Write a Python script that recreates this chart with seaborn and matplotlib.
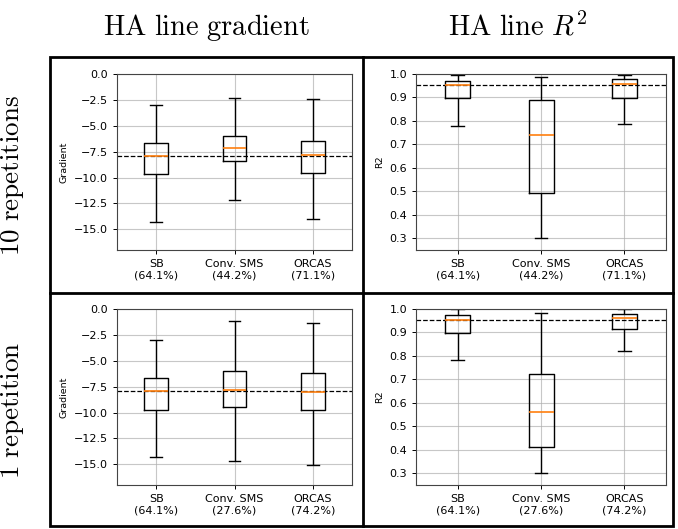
import matplotlib
matplotlib.use("Agg")
import matplotlib.pyplot as plt
import seaborn as sns
import pandas as pd
from matplotlib.patches import Rectangle
from matplotlib.lines import Line2D
from matplotlib.ticker import MultipleLocator

# ---------------- data ----------------
labels_10 = ["SB\n(64.1%)", "Conv. SMS\n(44.2%)", "ORCAS\n(71.1%)"]
labels_1 = ["SB\n(64.1%)", "Conv. SMS\n(27.6%)", "ORCAS\n(74.2%)"]

# five-number summaries: min, q1, median, q3, max
grad_10_sb = [-14.27, -9.70, -7.90, -6.70, -3.00]
grad_10_conv = [-12.17, -8.44, -7.12, -5.96, -2.29]
grad_10_orcas = [-14.04, -9.60, -7.86, -6.50, -2.42]

grad_1_sb = [-14.26, -9.75, -7.88, -6.69, -3.02]
grad_1_conv = [-14.67, -9.50, -7.85, -6.02, -1.16]
grad_1_orcas = [-15.10, -9.75, -8.00, -6.15, -1.32]

r2_10_sb = [0.780, 0.896, 0.953, 0.971, 0.997]
r2_10_conv = [0.300, 0.495, 0.741, 0.890, 0.986]
r2_10_orcas = [0.789, 0.899, 0.956, 0.977, 0.997]

r2_1_sb = [0.782, 0.898, 0.952, 0.973, 0.999]
r2_1_conv = [0.301, 0.4125, 0.559, 0.721, 0.981]
r2_1_orcas = [0.822, 0.916, 0.962, 0.979, 0.999]

grad_ref = -7.9
r2_ref = 0.953

col_titles = [r"$\mathrm{HA\ line\ gradient}$", r"$\mathrm{HA\ line}\ R^2$"]
row_titles = [r"$\mathrm{10\ repetitions}$", r"$\mathrm{1\ repetition}$"]

# ---------------- style ----------------
plt.rcParams["mathtext.fontset"] = "cm"
plt.rcParams["font.family"] = ["DejaVu Sans"]

W, H = 678, 529
fig = plt.figure(figsize=(W / 100, H / 100), dpi=100)


def frame(px_left, px_top, px_right, px_bottom):
    return [px_left / W, 1 - px_bottom / H, (px_right - px_left) / W,
            (px_bottom - px_top) / H]


panels = [
    (frame(117, 74, 352, 250), labels_10, [grad_10_sb, grad_10_conv, grad_10_orcas], grad_ref, "Gradient", (-17, 0), 2.5),
    (frame(416, 74, 666, 250), labels_10, [r2_10_sb, r2_10_conv, r2_10_orcas], r2_ref, "R2", (0.25, 1.0), 0.1),
    (frame(117, 309, 352, 485), labels_1, [grad_1_sb, grad_1_conv, grad_1_orcas], grad_ref, "Gradient", (-17, 0), 2.5),
    (frame(416, 309, 666, 485), labels_1, [r2_1_sb, r2_1_conv, r2_1_orcas], r2_ref, "R2", (0.25, 1.0), 0.1),
]

for rect, labels, series, ref, ylabel, ylim, step in panels:
    ax = fig.add_axes(rect)
    rows = []
    for lab, vals in zip(labels, series):
        for v in vals:
            rows.append({"method": lab, "value": v})
    df = pd.DataFrame(rows)
    sns.boxplot(data=df, x="method", y="value", order=labels, width=0.3,
                fill=False, color="black", whis=(0, 100), linewidth=1.0,
                medianprops=dict(color="#ff7f0e", linewidth=1.2), ax=ax)
    ax.axhline(ref, color="black", linestyle="--", linewidth=0.9)
    ax.set_xlim(-0.5, 2.5)
    ax.set_ylim(*ylim)
    ax.yaxis.set_major_locator(MultipleLocator(step))
    ax.grid(True, color="#b0b0b0", linewidth=0.8, alpha=0.7)
    ax.set_xlabel("")
    ax.set_ylabel(ylabel, fontsize=6.8)
    ax.tick_params(labelsize=8, length=3, width=0.7, colors="black")
    for s in ax.spines.values():
        s.set_linewidth(0.8)
        s.set_color("#444444")

# cell borders
fig.add_artist(Rectangle((50 / W, 1 - 526 / H), 623 / W, 469 / H,
                         transform=fig.transFigure, fill=False,
                         edgecolor="black", linewidth=2))
fig.add_artist(Line2D([363 / W, 363 / W], [1 - 526 / H, 1 - 57 / H],
                      transform=fig.transFigure, color="black", linewidth=2))
fig.add_artist(Line2D([50 / W, 673 / W], [1 - 293 / H, 1 - 293 / H],
                      transform=fig.transFigure, color="black", linewidth=2))

# column and row titles
fig.text(206 / W, 1 - 35 / H, col_titles[0], ha="center", va="baseline", fontsize=20.5)
fig.text(518 / W, 1 - 35 / H, col_titles[1], ha="center", va="baseline", fontsize=20.5)
fig.text(13 / W, 1 - 175 / H, row_titles[0], ha="center", va="center", rotation=90, fontsize=19.5)
fig.text(13 / W, 1 - 410 / H, row_titles[1], ha="center", va="center", rotation=90, fontsize=19.5)

fig.savefig("out.png", dpi=100)
